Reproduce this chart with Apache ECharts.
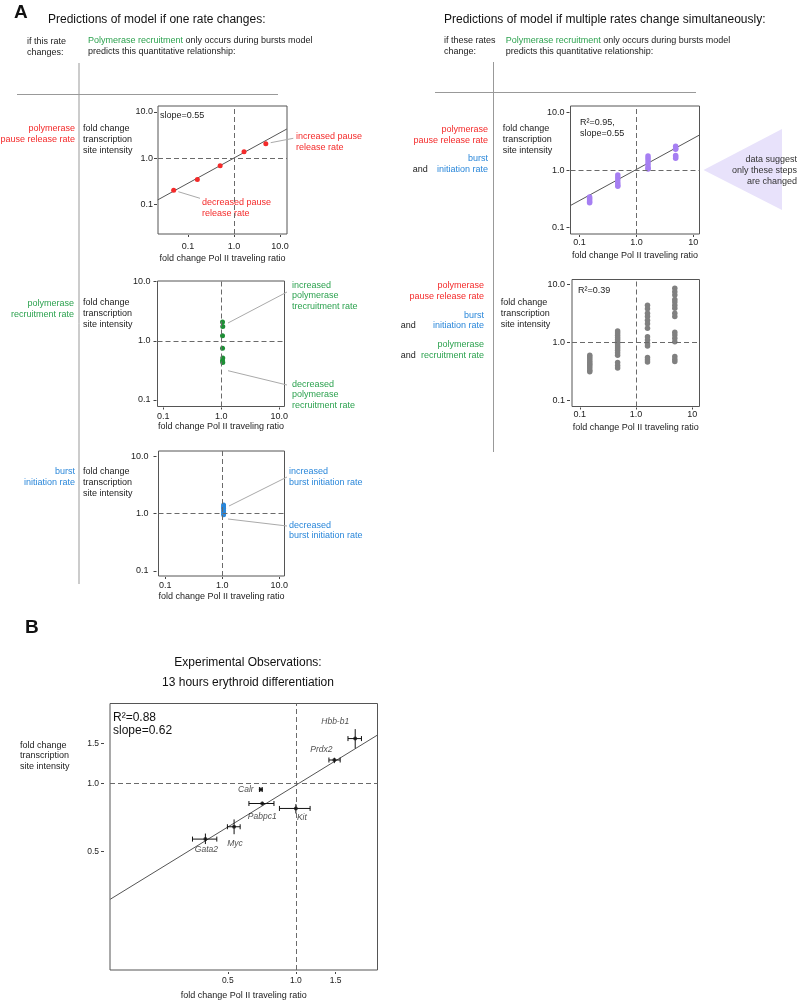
<!DOCTYPE html>
<html>
<head>
<meta charset="utf-8">
<script src="https://cdn.jsdelivr.net/npm/echarts@6.0.0/dist/echarts.min.js"></script>
<style>
  html, body { margin: 0; padding: 0; background: #fff; }
  #chart { width: 800px; height: 1003px; }
</style>
</head>
<body>
<div id="chart"></div>
<script>
// ---- data (fold changes, plotted on log10 axes) ----
const pauseX = [0.049, 0.16, 0.50, 1.65, 4.9];
const pauseY = [0.20, 0.34, 0.68, 1.37, 2.05];
const pauseFitX = [0.022, 14];
const pauseFitY = [0.123, 4.27];

const recruitX = [1.05, 1.06, 1.05, 1.05, 1.06, 1.05, 1.06];
const recruitY = [2.07, 1.74, 1.22, 0.75, 0.51, 0.46, 0.43];

const burstX = [1.05, 1.05, 1.05, 1.05, 1.05, 1.05];
const burstY = [1.40, 1.30, 1.22, 1.12, 1.03, 0.95];

// pause release + burst initiation changed together
const comboCols = [0.15, 0.47, 1.6, 4.9];
const pauseBurstY = [
  [0.34, 0.32, 0.30, 0.28, 0.27],
  [0.82, 0.74, 0.67, 0.60, 0.55, 0.52],
  [1.75, 1.60, 1.45, 1.30, 1.18, 1.08, 1.04],
  [2.6, 2.4, 2.3, 1.8, 1.7, 1.6]
];
const pauseBurstFitX = [0.0686, 12.8];
const pauseBurstFitY = [0.24, 4.07];

// all three rates changed together
const allRatesY = [
  [0.60, 0.56, 0.52, 0.48, 0.45, 0.42, 0.39, 0.36, 0.33, 0.31],
  [1.57, 1.45, 1.33, 1.22, 1.12, 1.03, 0.95, 0.87, 0.80, 0.73, 0.66, 0.60, 0.45, 0.40, 0.36],
  [4.4, 3.8, 3.2, 2.8, 2.4, 2.1, 1.75, 1.25, 1.1, 0.96, 0.87, 0.55, 0.50, 0.46],
  [8.6, 7.5, 6.6, 5.5, 5.0, 4.4, 3.9, 3.2, 2.8, 1.5, 1.34, 1.18, 1.03, 0.57, 0.51, 0.47]
];

// panel B, experimental observations
const geneNames = ['Hbb-b1', 'Prdx2', 'Calr', 'Pabpc1', 'Kit', 'Myc', 'Gata2'];
const geneX   = [1.83, 1.48, 0.70, 0.71, 1.00, 0.533, 0.398];
const geneXLo = [1.70, 1.40, 0.69, 0.62, 0.846, 0.498, 0.349];
const geneXHi = [1.95, 1.57, 0.71, 0.80, 1.156, 0.567, 0.447];
const geneY   = [1.58, 1.27, 0.94, 0.815, 0.775, 0.643, 0.567];
const geneYLo = [1.43, 1.23, 0.93, 0.80, 0.736, 0.596, 0.539];
const geneYHi = [1.74, 1.30, 0.95, 0.83, 0.81, 0.693, 0.60];
const geneFitX = [0.151, 2.3];
const geneFitY = [0.307, 1.64];

const ticksA = [0.1, 1, 10];
const ticksB = [0.5, 1, 1.5];

// ---- helpers ----
const FONT = '"Liberation Sans", Arial, Helvetica, sans-serif';
const RED = '#f42a2a', GREEN = '#2ca24f', BLUE = '#2a87da';
const lg = Math.log10;
const pts = (xs, ys) => xs.map((x, i) => [lg(x), lg(ys[i])]);
const colPts = (cols, groups) => {
  const out = [];
  groups.forEach((g, i) => g.forEach(y => out.push([lg(cols[i]), lg(y)])));
  return out;
};

const grids = [
  { left: 158,   top: 106,   width: 129,   height: 128 },   // A pause release
  { left: 157.5, top: 281,   width: 127,   height: 125.5 }, // A recruitment
  { left: 158.5, top: 451,   width: 126,   height: 125 },   // A burst
  { left: 570.5, top: 106,   width: 129,   height: 128 },   // right pause+burst
  { left: 572,   top: 279.5, width: 127.5, height: 127 },   // right all three
  { left: 110,   top: 703.5, width: 267.5, height: 266.5 }  // B
].map(g => Object.assign({ show: true, borderColor: '#555', borderWidth: 1, containLabel: false }, g));

// per grid: x extent, y extent (log10), tick values/labels, label distances
const axesCfg = [
  { x: [-1.65, 1.15], y: [-1.65, 1.13], xt: ticksA, xl: ['0.1', '1.0', '10.0'], yt: ticksA, yl: ['0.1', '1.0', '10.0'], xOff: 1, xMar: 7, xGap: 19, yOff: 1, yMar: 4 },
  { x: [-1.10, 1.09], y: [-1.11, 1.01], xt: ticksA, xl: ['0.1', '1.0', '10.0'], yt: ticksA, yl: ['0.1', '1.0', '10.0'], xOff: 1, xMar: 4.5, xGap: 15, yOff: 1, yMar: 6 },
  { x: [-1.12, 1.09], y: [-1.09, 1.09], xt: ticksA, xl: ['0.1', '1.0', '10.0'], yt: ticksA, yl: ['0.1', '1.0', '10.0'], xOff: 1, xMar: 4, xGap: 15.5, yOff: 2, yMar: 8 },
  { x: [-1.16, 1.11], y: [-1.115, 1.117], xt: ticksA, xl: ['0.1', '1.0', '10'], yt: ticksA, yl: ['0.1', '1.0', '10.0'], xOff: 1, xMar: 3, xGap: 16, yOff: 1, yMar: 5 },
  { x: [-1.14, 1.13], y: [-1.107, 1.086], xt: ticksA, xl: ['0.1', '1.0', '10'], yt: ticksA, yl: ['0.1', '1.0', '10.0'], xOff: 1, xMar: 3, xGap: 16, yOff: 2, yMar: 5 },
  { x: [-0.822, 0.361], y: [-0.826, 0.354], xt: ticksB, xl: ['0.5', '1.0', '1.5'], yt: ticksB, yl: ['0.5', '1.0', '1.5'], xOff: 2, xMar: 4, xGap: 19, yOff: 6, yMar: 5 }
];

function makeAxis(i, dim) {
  const c = axesCfg[i];
  const ticks = c[dim + 't'].map(lg);
  const labels = c[dim + 'l'];
  return {
    type: 'value',
    gridIndex: i,
    position: dim === 'x' ? 'bottom' : 'left',
    min: c[dim][0],
    max: c[dim][1],
    offset: c[dim + 'Off'],
    axisLine: { show: false, onZero: false },
    splitLine: { show: false },
    axisTick: { show: true, length: dim === 'x' ? 2 : 3, customValues: ticks, lineStyle: { color: '#444' } },
    axisLabel: {
      customValues: ticks,
      margin: c[dim + 'Mar'],
      fontSize: i === 5 ? 8.5 : 9,
      fontFamily: FONT,
      color: '#222',
      formatter: v => labels[ticks.findIndex(t => Math.abs(t - v) < 1e-6)] || ''
    },
    name: dim === 'x' ? 'fold change Pol II traveling ratio' : '',
    nameLocation: 'middle',
    nameGap: c.xGap,
    nameTextStyle: { fontSize: 9, fontFamily: FONT, color: '#222' }
  };
}

const refLines = {
  silent: true,
  symbol: ['none', 'none'],
  label: { show: false },
  lineStyle: { color: '#6a6a6a', width: 1, type: [5, 3] },
  data: [{ xAxis: 0 }, { yAxis: 0 }]
};

function scatter(i, data, color, size) {
  return {
    type: 'scatter', xAxisIndex: i, yAxisIndex: i, data,
    symbolSize: size, itemStyle: { color, opacity: 1 },
    markLine: refLines, z: 3
  };
}
function fitLine(i, xs, ys) {
  return {
    type: 'line', xAxisIndex: i, yAxisIndex: i, data: pts(xs, ys),
    symbol: 'none', lineStyle: { color: '#555', width: 1 }, z: 2, clip: true
  };
}

// gene label placement around each point (pixels)
const geneLabelOffset = {
  'Hbb-b1': [-20, -16.5], 'Prdx2': [-13, -10], 'Calr': [-15, 0], 'Pabpc1': [0, 13],
  'Kit': [6, 9], 'Myc': [1, 17], 'Gata2': [1, 11]
};

const geneData = geneNames.map((n, k) => ({
  name: n,
  value: [lg(geneX[k]), lg(geneY[k])],
  label: { show: true, position: 'inside', offset: geneLabelOffset[n], formatter: '{b}',
    fontSize: 8.5, fontStyle: 'italic', fontFamily: FONT, color: '#222' }
}));
const errData = geneNames.map((n, k) => [lg(geneX[k]), lg(geneY[k]), lg(geneXLo[k]), lg(geneXHi[k]), lg(geneYLo[k]), lg(geneYHi[k])]);

const errorBars = {
  type: 'custom', xAxisIndex: 5, yAxisIndex: 5, data: errData,
  encode: { x: [0, 2, 3], y: [1, 4, 5] }, z: 4,
  renderItem: function (params, api) {
    const x = api.value(0), y = api.value(1);
    const a = api.coord([api.value(2), y]), b = api.coord([api.value(3), y]);
    const c = api.coord([x, api.value(4)]), d = api.coord([x, api.value(5)]);
    const st = { stroke: '#111', lineWidth: 1 };
    const cap = 2.5;
    return {
      type: 'group',
      children: [
        { type: 'line', shape: { x1: a[0], y1: a[1], x2: b[0], y2: b[1] }, style: st },
        { type: 'line', shape: { x1: a[0], y1: a[1] - cap, x2: a[0], y2: a[1] + cap }, style: st },
        { type: 'line', shape: { x1: b[0], y1: b[1] - cap, x2: b[0], y2: b[1] + cap }, style: st },
        { type: 'line', shape: { x1: c[0], y1: c[1], x2: d[0], y2: d[1] }, style: st }
      ]
    };
  }
};

// ---- text and decorations ----
function txt(x, y, text, color, size, align, extra) {
  return {
    type: 'text', x, y, silent: true,
    style: Object.assign({
      text, fill: color || '#222', fontSize: size || 9, fontFamily: FONT,
      align: align || 'left', verticalAlign: 'middle',
      textAlign: align || 'left', textVerticalAlign: 'middle', lineHeight: 10.8
    }, extra || {})
  };
}
function seg(x1, y1, x2, y2, color) {
  return { type: 'line', silent: true, shape: { x1, y1, x2, y2 }, style: { stroke: color || '#aaa', lineWidth: 1 } };
}
function richHeader(x, y) {
  return {
    type: 'text', x, y, silent: true,
    style: {
      text: '{g|Polymerase recruitment} only occurs during bursts model\npredicts this quantitative relationship:',
      fill: '#222', fontSize: 9, fontFamily: FONT, lineHeight: 11.3,
      verticalAlign: 'middle', textVerticalAlign: 'middle',
      rich: { g: { fill: GREEN, fontSize: 9, fontFamily: FONT, lineHeight: 11.3 } }
    }
  };
}
const foldLabel = 'fold change\ntranscription\nsite intensity';

const graphics = [
  txt(14, 13, 'A', '#111', 19, 'left', { fontWeight: 'bold' }),
  txt(48, 19.5, 'Predictions of model if one rate changes:', '#111', 12),
  txt(444, 19.5, 'Predictions of model if multiple rates change simultaneously:', '#111', 12),
  txt(27, 47.5, 'if this rate\nchanges:', '#222', 9, 'left', { lineHeight: 11 }),
  richHeader(88, 46.3),
  txt(444, 46.3, 'if these rates\nchange:', '#222', 9, 'left', { lineHeight: 11.3 }),
  richHeader(505.7, 46.3),

  seg(79, 63, 79, 584, '#999'),
  seg(17, 94.5, 278, 94.5, '#999'),
  seg(493.5, 62, 493.5, 452, '#999'),
  seg(435, 92.5, 696, 92.5, '#999'),

  // left column, single rate changes
  txt(75, 133.8, 'polymerase\npause release rate', RED, 9, 'right'),
  txt(83, 139.3, foldLabel, '#222'),
  txt(74, 308.7, 'polymerase\nrecruitment rate', GREEN, 9, 'right'),
  txt(83, 313.7, foldLabel, '#222'),
  txt(75, 477, 'burst\ninitiation rate', BLUE, 9, 'right'),
  txt(83, 482.3, foldLabel, '#222'),

  // annotations
  txt(160, 116, 'slope=0.55', '#222'),
  txt(296, 142.2, 'increased pause\nrelease rate', RED),
  seg(270.7, 142.7, 293.3, 138.3),
  txt(202, 208, 'decreased pause\nrelease rate', RED),
  seg(178.3, 191.7, 200, 198.3),
  txt(292, 296, 'increased\npolymerase\ntrecruitment rate', GREEN),
  seg(228, 323, 287, 292),
  txt(292, 395, 'decreased\npolymerase\nrecruitment rate', GREEN),
  seg(228, 370.7, 287, 385),
  txt(289, 477, 'increased\nburst initiation rate', BLUE),
  seg(229, 506, 287, 477),
  txt(289, 530.5, 'decreased\nburst initiation rate', BLUE),
  seg(228, 519, 287, 526),

  // right column, several rates change
  txt(488, 135.3, 'polymerase\npause release rate', RED, 9, 'right'),
  txt(488, 163.8, 'burst\ninitiation rate', BLUE, 9, 'right'),
  txt(412.7, 169.3, 'and', '#222'),
  txt(502.7, 139.3, foldLabel, '#222'),
  txt(580, 128, 'R²=0.95,\nslope=0.55', '#222'),
  {
    type: 'polygon', silent: true,
    shape: { points: [[703.5, 170], [782, 129], [782, 210]] },
    style: { fill: '#e8e2fb' }
  },
  txt(797, 170.7, 'data suggest\nonly these steps\nare changed', '#333', 9, 'right'),

  txt(484, 290.8, 'polymerase\npause release rate', RED, 9, 'right'),
  txt(484, 320.5, 'burst\ninitiation rate', BLUE, 9, 'right'),
  txt(400.7, 326, 'and', '#222'),
  txt(484, 350.3, 'polymerase\nrecruitment rate', GREEN, 9, 'right'),
  txt(400.7, 355.7, 'and', '#222'),
  txt(500.7, 313.7, foldLabel, '#222'),
  txt(578, 290.7, 'R²=0.39', '#222'),

  // panel B
  txt(25, 628, 'B', '#111', 19, 'left', { fontWeight: 'bold' }),
  txt(248, 662.7, 'Experimental Observations:', '#111', 12, 'center'),
  txt(248, 682.7, '13 hours erythroid differentiation', '#111', 12, 'center'),
  txt(20, 756, foldLabel, '#222'),
  txt(113, 724.4, 'R²=0.88\nslope=0.62', '#111', 12, 'left', { lineHeight: 13.3 })
];

const chart = echarts.init(document.getElementById('chart'), null, { renderer: 'canvas' });

const option = {
  backgroundColor: '#fff',
  animation: false,
  grid: grids,
  xAxis: grids.map((g, i) => makeAxis(i, 'x')),
  yAxis: grids.map((g, i) => makeAxis(i, 'y')),
  series: [
    fitLine(0, pauseFitX, pauseFitY),
    scatter(0, pts(pauseX, pauseY), RED, 5),
    scatter(1, pts(recruitX, recruitY), '#1d8f35', 5),
    scatter(2, pts(burstX, burstY), '#2a87da', 5),
    fitLine(3, pauseBurstFitX, pauseBurstFitY),
    scatter(3, colPts(comboCols, pauseBurstY), '#a67ff2', 5.5),
    scatter(4, colPts(comboCols, allRatesY), '#808080', 5.5),
    fitLine(5, geneFitX, geneFitY),
    errorBars,
    {
      type: 'scatter', xAxisIndex: 5, yAxisIndex: 5, data: geneData,
      symbolSize: 4, itemStyle: { color: '#111' }, markLine: refLines, z: 5
    }
  ],
  graphic: graphics
};

chart.setOption(option);
window.addEventListener('resize', chart.resize);
</script>
</body>
</html>
